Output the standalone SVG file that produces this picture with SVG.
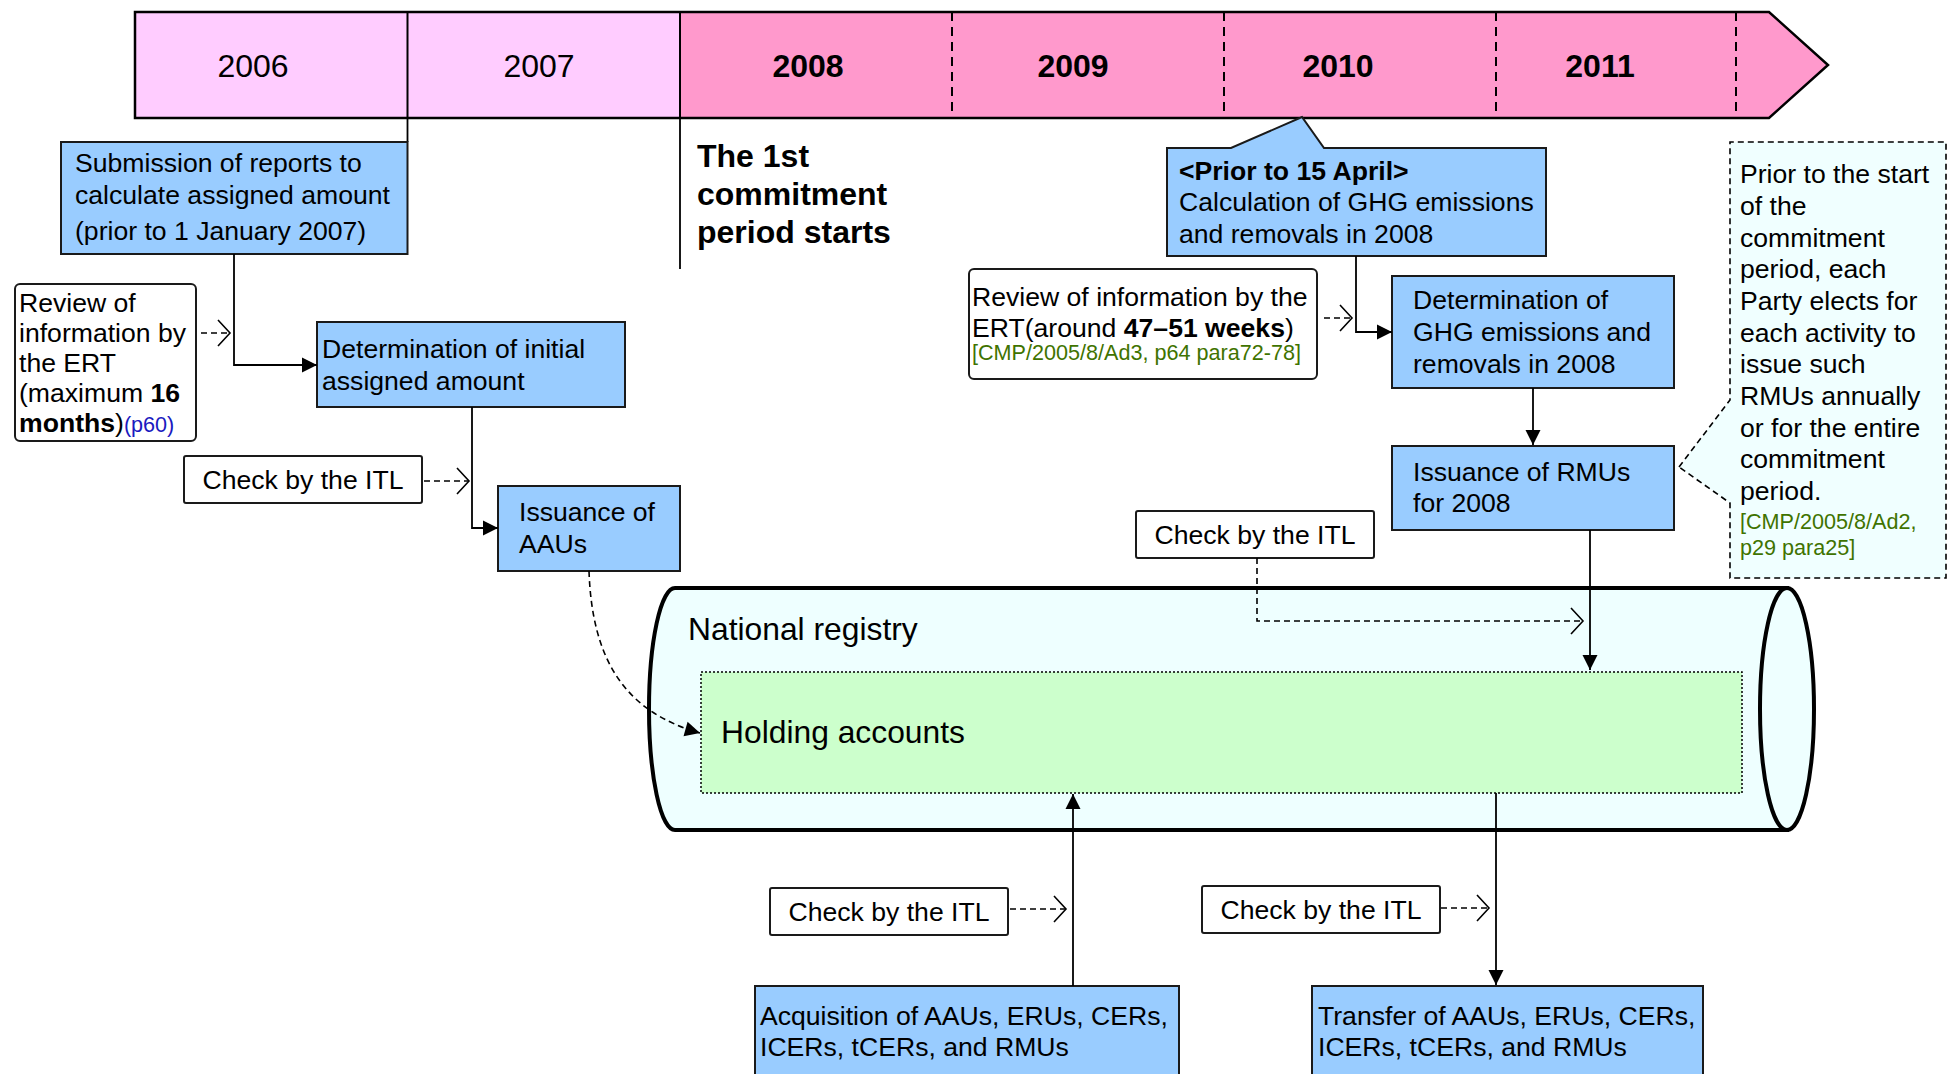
<svg xmlns="http://www.w3.org/2000/svg" width="1948" height="1074" viewBox="0 0 1948 1074">
<style>
text{font-family:"Liberation Sans",Arial,sans-serif;fill:#000}
.t26{font-size:26.6px}
.t30{font-size:31.8px}
.yr{font-size:32px;text-anchor:middle}
.b{font-weight:bold}
.grn{fill:#3F7300;font-size:21.6px}
.blu{fill:#1A1AC0;font-size:21.6px}
.mid{text-anchor:middle}
.blue{fill:#99CCFF;stroke:#1a1a1a;stroke-width:2}
.white{fill:#fff;stroke:#1a1a1a;stroke-width:2}
.solid{fill:none;stroke:#000;stroke-width:1.8}
.dash{fill:none;stroke:#000;stroke-width:1.6;stroke-dasharray:6 4}
</style>
<defs>
<marker id="fa" markerUnits="userSpaceOnUse" markerWidth="16" markerHeight="16" refX="15" refY="7.5" orient="auto" overflow="visible">
<path d="M0,0 L15,7.5 L0,15 Z" fill="#000"/>
</marker>
<marker id="oa" markerUnits="userSpaceOnUse" markerWidth="16" markerHeight="28" refX="12" refY="13" orient="auto" overflow="visible">
<path d="M0,0 L12,13 L0,26" fill="none" stroke="#000" stroke-width="1.6"/>
</marker>
</defs>
<rect width="1948" height="1074" fill="#fff"/>

<g id="timeline">
<rect x="135" y="12" width="545" height="106" fill="#FFCCFF"/>
<path d="M680,12 L1769,12 L1828,65 L1769,118 L680,118 Z" fill="#FF99CC"/>
<path d="M135,12 L1769,12 L1828,65 L1769,118 L135,118 Z" fill="none" stroke="#000" stroke-width="2.5"/>
<path d="M407.5,12 V118 M680,12 V118" stroke="#000" stroke-width="2"/>
<path d="M952,12 V118 M1224,12 V118 M1496,12 V118 M1736,12 V118" stroke="#000" stroke-width="2" stroke-dasharray="9 6"/>
<text class="yr" x="253" y="77">2006</text>
<text class="yr" x="539" y="77">2007</text>
<text class="yr b" x="808" y="77">2008</text>
<text class="yr b" x="1073" y="77">2009</text>
<text class="yr b" x="1338" y="77">2010</text>
<text class="yr b" x="1600" y="77">2011</text>
<path d="M407.5,118 V142 M680,118 V269" stroke="#000" stroke-width="1.8"/>
</g>

<g id="period-start">
<text class="b" font-size="32" x="697" y="167">The 1st</text>
<text class="b" font-size="32" x="697" y="205">commitment</text>
<text class="b" font-size="32" x="697" y="243">period starts</text>
</g>

<g id="registry">
<path d="M1787,588 L675,588 A26,121 0 0 0 675,830 L1787,830 Z" fill="#EEFFFF" stroke="#000" stroke-width="4"/>
<ellipse cx="1787" cy="709" rx="27" ry="121" fill="#EEFFFF" stroke="#000" stroke-width="4"/>
<text class="t30" x="688" y="640">National registry</text>
</g>

<g id="holding">
<rect x="701" y="672" width="1041" height="121" fill="#CCFFCC" stroke="#000" stroke-width="1.5" stroke-dasharray="2 2"/>
<text class="t30" x="721" y="743">Holding accounts</text>
</g>

<g id="submission">
<rect class="blue" x="61" y="142" width="346.5" height="112"/>
<text class="t26" x="75" y="172">Submission of reports to</text>
<text class="t26" x="75" y="204">calculate assigned amount</text>
<text class="t26" x="75" y="240">(prior to 1 January 2007)</text>
</g>

<g id="review-left">
<rect class="white" x="15" y="284" width="181" height="157" rx="5"/>
<text class="t26" x="19" y="312">Review of</text>
<text class="t26" x="19" y="342">information by</text>
<text class="t26" x="19" y="372">the ERT</text>
<text class="t26" x="19" y="402">(maximum <tspan class="b">16</tspan></text>
<text class="t26" x="19" y="432"><tspan class="b">months</tspan>)<tspan class="blu">(p60)</tspan></text>
</g>

<g id="det-initial">
<rect class="blue" x="317" y="322" width="308" height="85"/>
<text class="t26" x="322" y="358">Determination of initial</text>
<text class="t26" x="322" y="390">assigned amount</text>
</g>

<g id="check1">
<rect class="white" x="184" y="456" width="238" height="47" rx="2"/>
<text class="t26 mid" x="303" y="489">Check by the ITL</text>
</g>

<g id="issuance-aau">
<rect class="blue" x="498" y="486" width="182" height="85"/>
<text class="t26" x="519" y="521">Issuance of</text>
<text class="t26" x="519" y="553">AAUs</text>
</g>

<g id="prior-april">
<path class="blue" d="M1167,148 L1231,148 L1302,117 L1324,148 L1546,148 L1546,256 L1167,256 Z"/>
<text class="t26 b" x="1179" y="180">&lt;Prior to 15 April&gt;</text>
<text class="t26" x="1179" y="211">Calculation of GHG emissions</text>
<text class="t26" x="1179" y="243">and removals in 2008</text>
</g>

<g id="review-right">
<rect class="white" x="969" y="269" width="348" height="110" rx="5"/>
<text class="t26" x="972" y="306">Review of information by the</text>
<text class="t26" x="972" y="337">ERT(around <tspan class="b">47–51 weeks</tspan>)</text>
<text class="grn" x="972" y="360">[CMP/2005/8/Ad3, p64 para72-78]</text>
</g>

<g id="det-ghg">
<rect class="blue" x="1392" y="276" width="282" height="112"/>
<text class="t26" x="1413" y="309">Determination of</text>
<text class="t26" x="1413" y="341">GHG emissions and</text>
<text class="t26" x="1413" y="373">removals in 2008</text>
</g>

<g id="issuance-rmu">
<rect class="blue" x="1392" y="446" width="282" height="84"/>
<text class="t26" x="1413" y="481">Issuance of RMUs</text>
<text class="t26" x="1413" y="512">for 2008</text>
</g>

<g id="note">
<path d="M1679,467 L1730,400 L1730,142 L1946,142 L1946,578 L1730,578 L1730,503 Z" fill="#F0FFFF" stroke="#000" stroke-width="1.6" stroke-dasharray="6 4"/>
<text class="t26" x="1740" y="183">Prior to the start</text>
<text class="t26" x="1740" y="215">of the</text>
<text class="t26" x="1740" y="247">commitment</text>
<text class="t26" x="1740" y="278">period, each</text>
<text class="t26" x="1740" y="310">Party elects for</text>
<text class="t26" x="1740" y="342">each activity to</text>
<text class="t26" x="1740" y="373">issue such</text>
<text class="t26" x="1740" y="405">RMUs annually</text>
<text class="t26" x="1740" y="437">or for the entire</text>
<text class="t26" x="1740" y="468">commitment</text>
<text class="t26" x="1740" y="500">period.</text>
<text class="grn" x="1740" y="529">[CMP/2005/8/Ad2,</text>
<text class="grn" x="1740" y="555">p29 para25]</text>
</g>

<g id="check2">
<rect class="white" x="1136" y="511" width="238" height="47" rx="2"/>
<text class="t26 mid" x="1255" y="544">Check by the ITL</text>
</g>

<g id="check3">
<rect class="white" x="770" y="888" width="238" height="47" rx="2"/>
<text class="t26 mid" x="889" y="921">Check by the ITL</text>
</g>

<g id="check4">
<rect class="white" x="1202" y="886" width="238" height="47" rx="2"/>
<text class="t26 mid" x="1321" y="919">Check by the ITL</text>
</g>

<g id="acquisition">
<rect class="blue" x="755" y="986" width="424" height="100"/>
<text class="t26" x="760" y="1025">Acquisition of AAUs, ERUs, CERs,</text>
<text class="t26" x="760" y="1056">ICERs, tCERs, and RMUs</text>
</g>

<g id="transfer">
<rect class="blue" x="1312" y="986" width="391" height="100"/>
<text class="t26" x="1318" y="1025">Transfer of AAUs, ERUs, CERs,</text>
<text class="t26" x="1318" y="1056">ICERs, tCERs, and RMUs</text>
</g>

<g id="connectors">
<path class="solid" d="M234,254 V365 H317" marker-end="url(#fa)"/>
<path class="dash" d="M201,333 H230" marker-end="url(#oa)"/>
<path class="solid" d="M472,407 V528 H498" marker-end="url(#fa)"/>
<path class="dash" d="M424,481 H469" marker-end="url(#oa)"/>
<path class="dash" d="M589,571 C592,660 625,712 700,733" marker-end="url(#fa)"/>
<path class="solid" d="M1356,256 V332 H1392" marker-end="url(#fa)"/>
<path class="dash" d="M1324,318 H1352" marker-end="url(#oa)"/>
<path class="solid" d="M1533,388 V445" marker-end="url(#fa)"/>
<path class="solid" d="M1590,530 V670" marker-end="url(#fa)"/>
<path class="dash" d="M1257,558 V621 H1583" marker-end="url(#oa)"/>
<path class="solid" d="M1073,986 V794" marker-end="url(#fa)"/>
<path class="dash" d="M1010,909 H1066" marker-end="url(#oa)"/>
<path class="solid" d="M1496,793 V985" marker-end="url(#fa)"/>
<path class="dash" d="M1441,908 H1489" marker-end="url(#oa)"/>
</g>
</svg>
